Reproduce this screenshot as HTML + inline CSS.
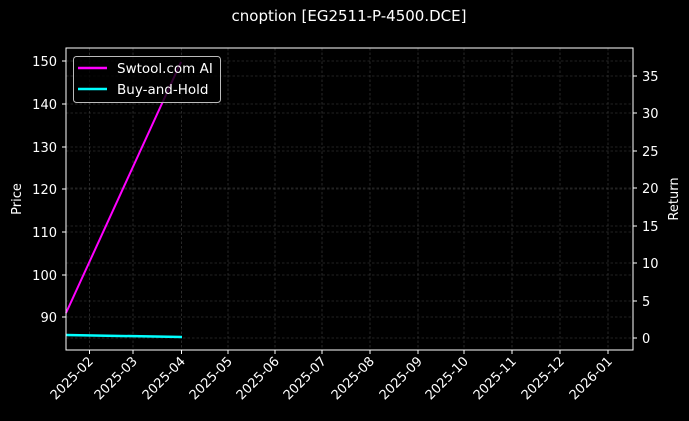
<!DOCTYPE html>
<html><head><meta charset="utf-8"><style>
body{margin:0;background:#000;}
svg{display:block;font-family:"DejaVu Sans","Liberation Sans",sans-serif;}
</style></head><body>
<svg width="689" height="421" viewBox="0 0 689 421">
<rect width="689" height="421" fill="#000"/>
<text x="349" y="21" fill="#fff" font-size="15" text-anchor="middle">cnoption [EG2511-P-4500.DCE]</text>
<g stroke="#444" stroke-width="0.6" stroke-dasharray="2.5,2">
<line x1="89.5" y1="48" x2="89.5" y2="350"/><line x1="133" y1="48" x2="133" y2="350"/><line x1="181.5" y1="48" x2="181.5" y2="350"/><line x1="228" y1="48" x2="228" y2="350"/><line x1="275" y1="48" x2="275" y2="350"/><line x1="322" y1="48" x2="322" y2="350"/><line x1="370" y1="48" x2="370" y2="350"/><line x1="418" y1="48" x2="418" y2="350"/><line x1="464" y1="48" x2="464" y2="350"/><line x1="512" y1="48" x2="512" y2="350"/><line x1="560" y1="48" x2="560" y2="350"/><line x1="608" y1="48" x2="608" y2="350"/>
<line x1="66" y1="61" x2="633" y2="61"/><line x1="66" y1="104" x2="633" y2="104"/><line x1="66" y1="147" x2="633" y2="147"/><line x1="66" y1="189" x2="633" y2="189"/><line x1="66" y1="232" x2="633" y2="232"/><line x1="66" y1="275" x2="633" y2="275"/><line x1="66" y1="317" x2="633" y2="317"/>
<line x1="66" y1="76" x2="633" y2="76"/><line x1="66" y1="113" x2="633" y2="113"/><line x1="66" y1="151" x2="633" y2="151"/><line x1="66" y1="188" x2="633" y2="188"/><line x1="66" y1="226" x2="633" y2="226"/><line x1="66" y1="263" x2="633" y2="263"/><line x1="66" y1="301" x2="633" y2="301"/><line x1="66" y1="338" x2="633" y2="338"/>
</g>
<polyline points="66,313 181,62" stroke="#ff00ff" stroke-width="2" fill="none"/>
<polyline points="66,335 182,337" stroke="#00ffff" stroke-width="2.5" fill="none"/>
<rect x="66" y="48" width="567" height="302" fill="none" stroke="#fff" stroke-width="1"/>
<g stroke="#fff" stroke-width="1">
<line x1="62" y1="61" x2="66" y2="61"/><line x1="62" y1="104" x2="66" y2="104"/><line x1="62" y1="147" x2="66" y2="147"/><line x1="62" y1="189" x2="66" y2="189"/><line x1="62" y1="232" x2="66" y2="232"/><line x1="62" y1="275" x2="66" y2="275"/><line x1="62" y1="317" x2="66" y2="317"/>
<line x1="633" y1="76" x2="637" y2="76"/><line x1="633" y1="113" x2="637" y2="113"/><line x1="633" y1="151" x2="637" y2="151"/><line x1="633" y1="188" x2="637" y2="188"/><line x1="633" y1="226" x2="637" y2="226"/><line x1="633" y1="263" x2="637" y2="263"/><line x1="633" y1="301" x2="637" y2="301"/><line x1="633" y1="338" x2="637" y2="338"/>
<line x1="89.5" y1="350" x2="89.5" y2="354"/><line x1="133" y1="350" x2="133" y2="354"/><line x1="181.5" y1="350" x2="181.5" y2="354"/><line x1="228" y1="350" x2="228" y2="354"/><line x1="275" y1="350" x2="275" y2="354"/><line x1="322" y1="350" x2="322" y2="354"/><line x1="370" y1="350" x2="370" y2="354"/><line x1="418" y1="350" x2="418" y2="354"/><line x1="464" y1="350" x2="464" y2="354"/><line x1="512" y1="350" x2="512" y2="354"/><line x1="560" y1="350" x2="560" y2="354"/><line x1="608" y1="350" x2="608" y2="354"/>
</g>
<g fill="#fff" font-size="13" text-anchor="end">
<text x="57" y="66">150</text><text x="57" y="109">140</text><text x="57" y="152">130</text><text x="57" y="194">120</text><text x="57" y="237">110</text><text x="57" y="280">100</text><text x="57" y="322">90</text>
</g>
<g fill="#fff" font-size="13">
<text x="642" y="81">35</text><text x="642" y="118">30</text><text x="642" y="156">25</text><text x="642" y="193">20</text><text x="642" y="231">15</text><text x="642" y="268">10</text><text x="642" y="306">5</text><text x="642" y="343">0</text>
</g>
<g fill="#fff" font-size="13" text-anchor="end">
<text transform="translate(94,362) rotate(-45)">2025-02</text>
<text transform="translate(138,362) rotate(-45)">2025-03</text>
<text transform="translate(186,362) rotate(-45)">2025-04</text>
<text transform="translate(233,362) rotate(-45)">2025-05</text>
<text transform="translate(280,362) rotate(-45)">2025-06</text>
<text transform="translate(327,362) rotate(-45)">2025-07</text>
<text transform="translate(375,362) rotate(-45)">2025-08</text>
<text transform="translate(423,362) rotate(-45)">2025-09</text>
<text transform="translate(469,362) rotate(-45)">2025-10</text>
<text transform="translate(517,362) rotate(-45)">2025-11</text>
<text transform="translate(565,362) rotate(-45)">2025-12</text>
<text transform="translate(613,362) rotate(-45)">2026-01</text>
</g>
<text transform="translate(21,199) rotate(-90)" fill="#fff" font-size="13" text-anchor="middle">Price</text>
<text transform="translate(678,199) rotate(-90)" fill="#fff" font-size="13" text-anchor="middle">Return</text>
<rect x="73.5" y="56.5" width="147" height="46" rx="3" fill="#000" fill-opacity="0.8" stroke="#bbb" stroke-width="1"/>
<line x1="78" y1="68" x2="107" y2="68" stroke="#ff00ff" stroke-width="2.5"/>
<line x1="78" y1="89" x2="107" y2="89" stroke="#00ffff" stroke-width="2.5"/>
<g fill="#fff" font-size="13.5"><text x="117" y="73">Swtool.com AI</text><text x="117" y="94">Buy-and-Hold</text></g>
</svg>
</body></html>
